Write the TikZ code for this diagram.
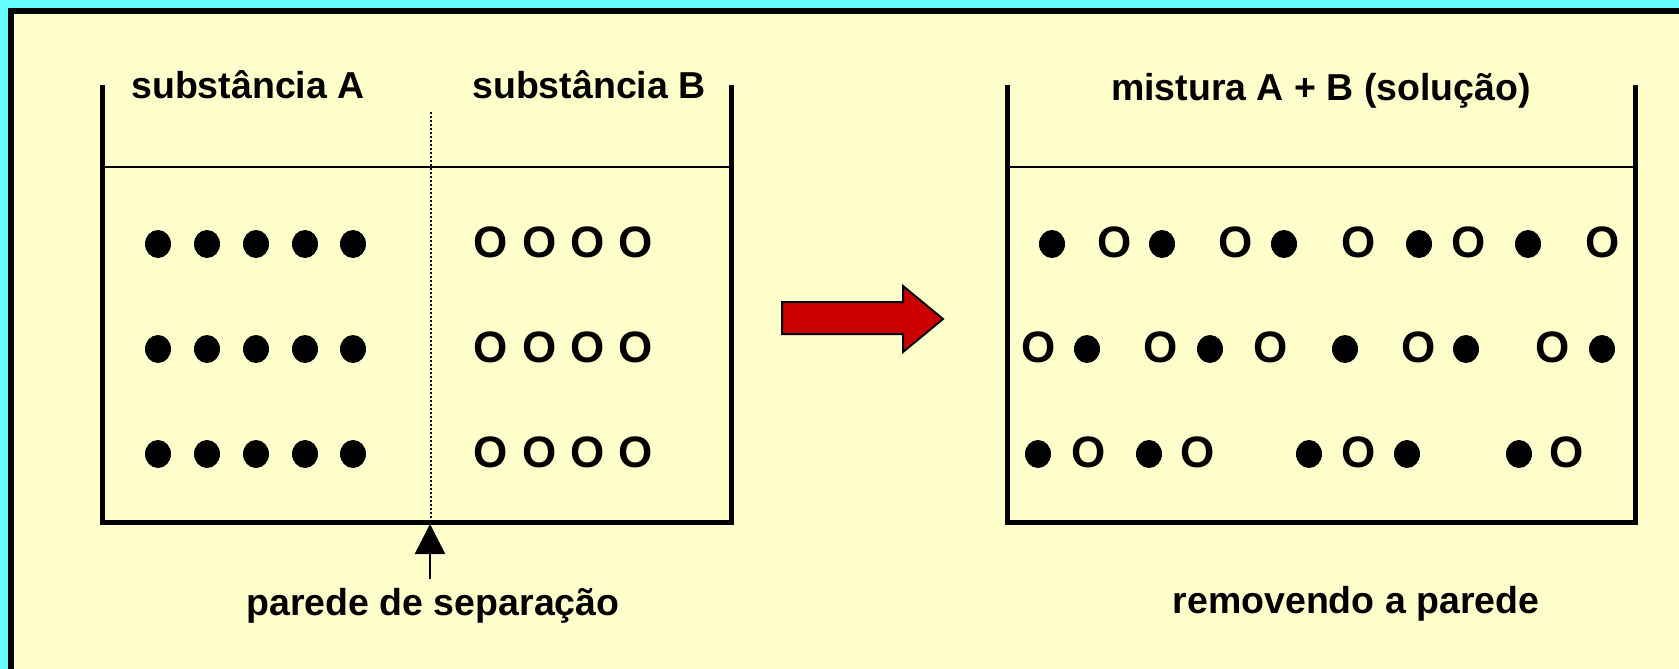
\documentclass[tikz,border=0pt]{standalone}
\usepackage{fontspec}
\setmainfont{Liberation Sans}
\usetikzlibrary{arrows.meta}
\definecolor{bgcyan}{HTML}{66FFFF}
\definecolor{paper}{HTML}{FFFFCC}
\definecolor{arrowred}{HTML}{CC0000}
\begin{document}
\begin{tikzpicture}[x=1pt,y=-1pt,
  lbl/.style={font=\fontsize{37.5}{44}\selectfont\bfseries, inner sep=0pt, anchor=base},
  oglyph/.style={font=\fontsize{44}{50}\selectfont\bfseries, inner sep=0pt},
  wall/.style={line width=5pt, line join=miter},
  level/.style={line width=2.5pt},
  sepwall/.style={line width=2pt, dash pattern=on 2pt off 2pt},
  pointer/.style={line width=2.5pt, -{Triangle[length=30pt,width=30pt]}},
  bigarrow/.style={fill=arrowred, draw=black, line width=2pt, line join=miter},
  frame/.style={line width=6pt, line join=miter}]
\useasboundingbox (0,0) rectangle (1679,669);
\fill[bgcyan] (0,0) rectangle (1679,669);
\fill[paper] (11,11) rectangle (1679,669);
\draw[frame] (11,669) -- (11,11) -- (1679,11);

% left container
\coordinate (LtL) at (102,85);
\coordinate (LbL) at (102,522);
\coordinate (LbR) at (731,522);
\coordinate (LtR) at (731,85);
\draw[wall] (LtL) -- (LbL) -- (LbR) -- (LtR);
\coordinate (LlvL) at (102,167);
\coordinate (LlvR) at (731,167);
\draw[level] (LlvL) -- (LlvR);
\coordinate (sepTop) at (431,112);
\coordinate (sepBot) at (431,519);
\draw[sepwall] (sepTop) -- (sepBot);

% right container
\coordinate (RtL) at (1007,85);
\coordinate (RbL) at (1007,522);
\coordinate (RbR) at (1635,522);
\coordinate (RtR) at (1635,85);
\draw[wall] (RtL) -- (RbL) -- (RbR) -- (RtR);
\coordinate (RlvL) at (1007,167);
\coordinate (RlvR) at (1635,167);
\draw[level] (RlvL) -- (RlvR);

% labels
\node[lbl] (subA) at (248,99) {substância A};
\node[lbl] (subB) at (589,99) {substância B};
\node[lbl] (mix) at (1321,100) {mistura A + B (solução)};
\node[lbl] (sep) at (433,615) {parede de separação};
\node[lbl] (rem) at (1356,613) {removendo a parede};

% separation pointer
\coordinate (ptrFoot) at (430,579);
\coordinate (ptrTip) at (430,524);
\draw[pointer] (ptrFoot) -- (ptrTip);

% big red arrow
\draw[bigarrow] (782,302) -- (903,302) -- (903,286) -- (943,319) -- (903,352) -- (903,334) -- (782,334) -- cycle;

% particles, left
\foreach \y in {244,349,454}
  \foreach \x in {158,207,256,305,353}
    \fill (\x,\y) ellipse[x radius=13, y radius=14];
\foreach \y in {242,347,452}
  \foreach \x in {491,540,588,636}
    \node[oglyph] at (\x,\y) {O};

% particles, right (mixture)
\foreach \x in {1052,1162,1284,1419,1528}
  \fill (\x,244) ellipse[x radius=13, y radius=14];
\foreach \x in {1115,1236,1359,1469,1603}
  \node[oglyph] at (\x,242) {O};
\foreach \x in {1087,1210,1345,1466,1602}
  \fill (\x,349) ellipse[x radius=13, y radius=14];
\foreach \x in {1039,1161,1271,1419,1553}
  \node[oglyph] at (\x,347) {O};
\foreach \x in {1038,1149,1309,1407,1519}
  \fill (\x,454) ellipse[x radius=13, y radius=14];
\foreach \x in {1089,1198,1359,1567}
  \node[oglyph] at (\x,452) {O};
\end{tikzpicture}
\end{document}
